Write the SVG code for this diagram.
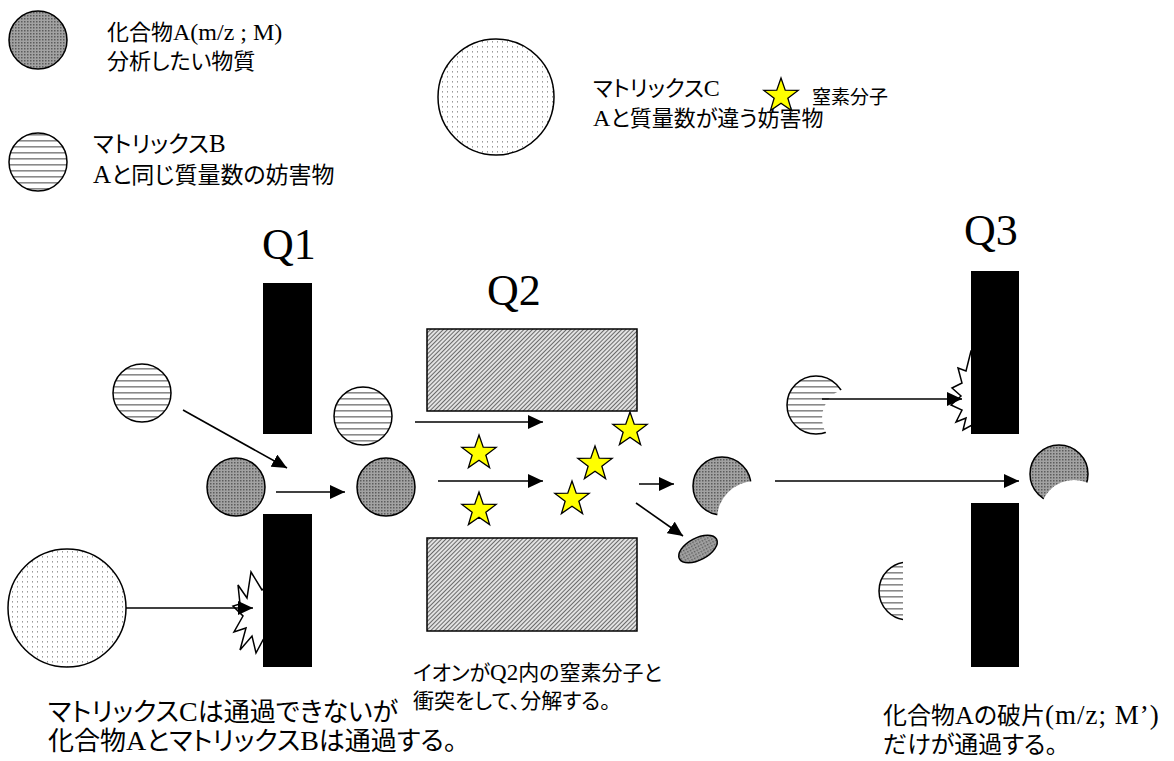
<svg xmlns="http://www.w3.org/2000/svg" width="1174" height="761" viewBox="0 0 1174 761">
  <style>
    .t { font-family: "Liberation Serif", "Noto Sans CJK JP", sans-serif; font-size: 23px; fill: #000; font-feature-settings: "palt" 1; }
    .q { font-family: "Liberation Serif", serif; font-size: 44px; fill: #000; }
    .cA { fill: url(#pA); stroke: #000; stroke-width: 1.5; }
    .cB { fill: url(#pB); stroke: #000; stroke-width: 1.5; }
    .cC { fill: url(#pC); stroke: #000; stroke-width: 1.5; }
    .bar { fill: #000; }
    .rect { fill: url(#pQ); stroke: #000; stroke-width: 1.5; }
    .star { fill: #ffff00; stroke: #000; stroke-width: 1.3; stroke-linejoin: miter; }
    .burst { fill: #fff; stroke: #000; stroke-width: 1.5; stroke-linejoin: miter; }
    .arr { stroke: #000; stroke-width: 1.6; fill: none; marker-end: url(#head); }
  </style>
  <defs>
    <!-- compound A: dark stippled grey -->
    <pattern id="pA" width="3" height="3" patternUnits="userSpaceOnUse">
      <rect width="3" height="3" fill="#a2a2a2"/>
      <rect width="1.5" height="1.5" fill="#5c5c5c"/>
    </pattern>
    <!-- matrix B: horizontal stripes -->
    <pattern id="pB" width="8" height="6" patternUnits="userSpaceOnUse">
      <rect width="8" height="6" fill="#fff"/>
      <rect y="2" width="8" height="1.6" fill="#8a8a8a"/>
    </pattern>
    <!-- matrix C: sparse dots -->
    <pattern id="pC" width="5" height="5" patternUnits="userSpaceOnUse">
      <rect width="5" height="5" fill="#fff"/>
      <rect x="2" y="1" width="1" height="1.6" fill="#9a9a9a"/>
    </pattern>
    <!-- quadrupole rods: fine diagonal hatch -->
    <pattern id="pQ" width="3" height="3" patternUnits="userSpaceOnUse" patternTransform="rotate(45)">
      <rect width="3" height="3" fill="#e2e2e2"/>
      <rect width="1" height="3" fill="#6a6a6a"/>
    </pattern>
    <marker id="head" markerUnits="userSpaceOnUse" markerWidth="15" markerHeight="14" refX="15" refY="7" orient="auto">
      <path d="M0,0 L15,7 L0,14 z" fill="#000"/>
    </marker>
    <path id="star" d="M0,-18 L4.23,-5.82 L17.12,-5.56 L6.85,2.22 L10.58,14.56 L0,7.2 L-10.58,14.56 L-6.85,2.22 L-17.12,-5.56 L-4.23,-5.82 Z"/>
    <mask id="biteMid" maskUnits="userSpaceOnUse" x="0" y="0" width="1174" height="761">
      <rect width="1174" height="761" fill="#fff"/>
      <circle cx="755" cy="519" r="38" fill="#000"/>
    </mask>
    <mask id="biteOut" maskUnits="userSpaceOnUse" x="0" y="0" width="1174" height="761">
      <rect width="1174" height="761" fill="#fff"/>
      <circle cx="1074" cy="514" r="34" fill="#000"/>
    </mask>
    <mask id="biteB" maskUnits="userSpaceOnUse" x="0" y="0" width="1174" height="761">
      <rect width="1174" height="761" fill="#fff"/>
      <circle cx="852" cy="418" r="30" fill="#000"/>
    </mask>
    <clipPath id="cutB">
      <rect x="860" y="550" width="43" height="80"/>
    </clipPath>
  </defs>

  <!-- legend -->
  <g id="legend-a">
    <circle class="cA" cx="38" cy="40" r="29"/>
    <text class="t" x="107" y="40" style="font-size:22px">化合物<tspan style="font-size:24px">A(m/z ; M)</tspan></text>
    <text class="t" x="107" y="69" style="font-size:22px">分析したい物質</text>
  </g>
  <g id="legend-b">
    <circle class="cB" cx="38" cy="162" r="29"/>
    <text class="t" x="93" y="152">マトリックス<tspan style="font-size:25px">B</tspan></text>
    <text class="t" x="93" y="183"><tspan style="font-size:25px">A</tspan>と同じ質量数の妨害物</text>
  </g>
  <g id="legend-c">
    <circle class="cC" cx="496" cy="97" r="58"/>
    <text class="t" x="593" y="96" style="font-size:22px">マトリックス<tspan style="font-size:24px">C</tspan></text>
    <text class="t" x="593" y="126" style="font-size:22px"><tspan style="font-size:24px">A</tspan>と質量数が違う妨害物</text>
  </g>
  <g id="legend-n2">
    <use href="#star" class="star" transform="translate(781,96)"/>
    <text class="t" x="812" y="104" style="font-size:19px">窒素分子</text>
  </g>

  <!-- Q1 -->
  <g id="q1">
    <text class="q" x="262" y="259">Q1</text>
    <polygon class="burst" points="262,590 251,572 247,598 238,585 240,604 233,606 243,616 234,632 246,628 240,650 252,636 256,653 263,640 285,660 295,612 285,575"/>
    <rect class="bar" x="263" y="283" width="49" height="151"/>
    <rect class="bar" x="263" y="514" width="49" height="153"/>
  </g>
  <g id="ion-b-in"><circle class="cB" cx="142" cy="393" r="29"/></g>
  <g id="ion-a-in"><circle class="cA" cx="236" cy="487" r="29"/></g>
  <g id="ion-c-in"><circle class="cC" cx="67" cy="608" r="59"/></g>

  <!-- Q2 -->
  <g id="q2">
    <text class="q" x="487" y="305">Q2</text>
    <rect class="rect" x="427" y="329" width="210" height="82"/>
    <rect class="rect" x="427" y="538" width="210" height="93"/>
  </g>
  <g id="ion-b-mid"><circle class="cB" cx="363" cy="416" r="29"/></g>
  <g id="ion-a-mid"><circle class="cA" cx="386" cy="487" r="29"/></g>
  <g id="n2-gas">
    <use href="#star" class="star" transform="translate(479,453)"/>
    <use href="#star" class="star" transform="translate(479,510)"/>
    <use href="#star" class="star" transform="translate(572,499)"/>
    <use href="#star" class="star" transform="translate(595,464)"/>
    <use href="#star" class="star" transform="translate(630,430)"/>
  </g>
  <g id="frag-a-mid"><circle class="cA" cx="722" cy="486" r="29" mask="url(#biteMid)"/></g>
  <g id="frag-small"><ellipse class="cA" cx="698" cy="549" rx="21" ry="11" transform="rotate(-28 698 549)"/></g>

  <!-- Q3 -->
  <g id="q3">
    <text class="q" x="964" y="245">Q3</text>
    <polygon class="burst" points="971,351 966,371 958,368 962,383 952,388 961,396 951,405 962,410 956,422 966,418 963,430 972,425 990,430 990,350"/>
    <rect class="bar" x="971" y="271" width="48" height="163"/>
    <rect class="bar" x="971" y="503" width="48" height="164"/>
  </g>
  <g id="frag-b-up"><circle class="cB" cx="816" cy="405" r="29" mask="url(#biteB)"/></g>
  <g id="frag-b-low"><circle class="cB" cx="908" cy="591" r="29" clip-path="url(#cutB)"/></g>
  <g id="frag-a-out"><circle class="cA" cx="1059" cy="474" r="29" mask="url(#biteOut)"/></g>

  <!-- connectors -->
  <g id="connectors">
    <line class="arr" x1="183" y1="410" x2="287" y2="468"/>
    <line class="arr" x1="276" y1="492" x2="345" y2="492"/>
    <line class="arr" x1="126" y1="608" x2="253" y2="608"/>
    <line class="arr" x1="415" y1="422" x2="543" y2="422"/>
    <line class="arr" x1="438" y1="481" x2="543" y2="481"/>
    <line class="arr" x1="639" y1="484" x2="674" y2="484"/>
    <line class="arr" x1="636" y1="503" x2="683" y2="536"/>
    <line class="arr" x1="775" y1="481" x2="1019" y2="481"/>
    <line class="arr" x1="822" y1="399" x2="962" y2="399"/>
  </g>

  <!-- captions -->
  <g id="caption-q1">
    <text class="t" x="48" y="721" style="font-size:26px">マトリックス<tspan style="font-size:28px">C</tspan>は通過できないが</text>
    <text class="t" x="48" y="750" style="font-size:26px">化合物<tspan style="font-size:28px">A</tspan>とマトリックス<tspan style="font-size:28px">B</tspan>は通過する。</text>
  </g>
  <g id="caption-q2">
    <text class="t" x="413" y="680" style="font-size:21px">イオンが<tspan style="font-size:23px">Q2</tspan>内の窒素分子と</text>
    <text class="t" x="413" y="708" style="font-size:21px">衝突をして、分解する。</text>
  </g>
  <g id="caption-q3">
    <text class="t" x="883" y="724" style="font-size:24px">化合物<tspan style="font-size:26px">A</tspan>の破片<tspan style="font-size:27px;letter-spacing:1px">(m/z; M’)</tspan></text>
    <text class="t" x="883" y="753" style="font-size:24px">だけが通過する。</text>
  </g>
</svg>
